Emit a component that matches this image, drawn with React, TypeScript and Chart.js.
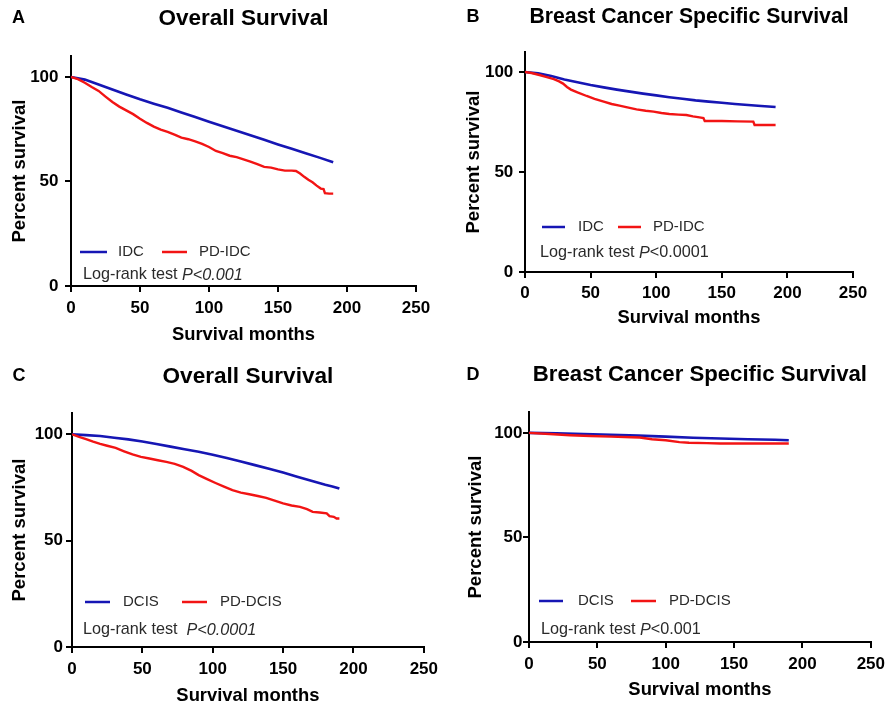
import React, { useEffect, useRef } from "react";
import { Chart, registerables } from "chart.js";

Chart.register(...registerables);

const FONT = '"Liberation Sans", Arial, Helvetica, sans-serif';
const BLUE = "#1616b4";
const RED = "#f21414";

const xTickValues = [0, 50, 100, 150, 200, 250];
const yTickValues = [0, 50, 100];

// Panel A – Overall survival, IDC vs PD-IDC
const idcOsMonths = [0, 10, 20, 30, 40, 50, 60, 70, 80, 90, 100, 110, 120, 130, 140, 150, 160, 170, 180, 190];
const idcOsSurvival = [100, 98.7, 96.4, 94.0, 91.6, 89.3, 87.2, 85.2, 83.0, 80.8, 78.6, 76.4, 74.3, 72.1, 69.9, 67.7, 65.6, 63.5, 61.4, 59.2];
const pdIdcOsMonths = [0, 5, 10, 15, 20, 25, 30, 35, 40, 45, 50, 55, 60, 65, 70, 75, 80, 85, 90, 95, 100, 105, 110, 115, 120, 125, 130, 135, 140, 145, 150, 155, 160, 163, 166, 169, 172, 175, 178, 181, 183, 184, 187, 190];
const pdIdcOsSurvival = [100, 98.9, 97.2, 95.2, 93.3, 90.6, 88.0, 85.8, 84.0, 82.2, 80.0, 78.0, 76.2, 74.8, 73.7, 72.4, 71.0, 70.2, 69.2, 68.0, 66.5, 64.6, 63.6, 62.3, 61.6, 60.6, 59.5, 58.3, 57.0, 56.6, 55.8, 55.2, 55.2, 55.0, 53.8, 52.2, 50.8, 49.6, 48.0, 46.6, 46.4, 44.4, 44.2, 44.2];

// Panel B – Breast cancer specific survival, IDC vs PD-IDC
const idcBcssMonths = [0, 10, 20, 30, 40, 50, 60, 70, 80, 90, 100, 110, 120, 130, 140, 150, 160, 170, 180, 191];
const idcBcssSurvival = [100, 99.3, 98.0, 96.3, 94.9, 93.5, 92.3, 91.2, 90.2, 89.2, 88.3, 87.4, 86.6, 85.8, 85.2, 84.6, 84.0, 83.5, 83.0, 82.5];
const pdIdcBcssMonths = [0, 5, 11, 16, 22, 26, 29, 32, 35, 40, 47, 53, 60, 66, 72, 78, 85, 92, 98, 104, 110, 117, 123, 128, 133, 136, 137, 150, 162, 174, 175, 191];
const pdIdcBcssSurvival = [100, 99.5, 98.5, 97.6, 96.4, 95.3, 94.2, 92.5, 91.2, 89.8, 88.0, 86.6, 85.2, 84.0, 83.2, 82.3, 81.3, 80.6, 80.2, 79.5, 79.0, 78.7, 78.5, 77.8, 77.3, 77.0, 75.5, 75.5, 75.3, 75.2, 73.5, 73.5];

// Panel C – Overall survival, DCIS vs PD-DCIS
const dcisOsMonths = [0, 10, 20, 30, 40, 50, 60, 70, 80, 90, 100, 110, 120, 130, 140, 150, 160, 170, 180, 185, 190];
const dcisOsSurvival = [100, 99.6, 99.2, 98.4, 97.6, 96.6, 95.4, 94.2, 93.0, 91.8, 90.4, 88.8, 87.2, 85.5, 83.8, 82.0, 80.0, 78.1, 76.3, 75.5, 74.5];
const pdDcisOsMonths = [0, 5, 10, 15, 20, 25, 31, 37, 43, 49, 55, 61, 67, 73, 79, 85, 90, 96, 102, 108, 114, 120, 126, 132, 138, 144, 150, 156, 162, 167, 171, 176, 181, 183, 186, 188, 190];
const pdDcisOsSurvival = [100, 98.8, 97.7, 96.5, 95.5, 94.6, 93.6, 92.0, 90.5, 89.4, 88.6, 87.8, 87.0, 86.1, 84.7, 82.8, 80.8, 78.9, 77.1, 75.4, 73.7, 72.6, 71.8, 71.0, 70.1, 68.8, 67.5, 66.5, 65.9, 64.8, 63.5, 63.2, 62.8, 61.5, 61.2, 60.4, 60.4];

// Panel D – Breast cancer specific survival, DCIS vs PD-DCIS
const dcisBcssMonths = [0, 20, 40, 60, 80, 100, 120, 140, 160, 180, 190];
const dcisBcssSurvival = [100, 99.8, 99.5, 99.1, 98.7, 98.2, 97.7, 97.3, 97.0, 96.7, 96.5];
const pdDcisBcssMonths = [0, 15, 30, 45, 60, 75, 81, 90, 100, 110, 117, 130, 140, 190];
const pdDcisBcssSurvival = [100, 99.5, 98.9, 98.5, 98.2, 97.9, 97.8, 97.0, 96.5, 95.6, 95.3, 95.1, 94.9, 94.9];

const toXY = (xs: number[], ys: number[]) => xs.map((x, i) => ({ x, y: ys[i] }));

type Panel = {
  letter: string;
  title: string;
  titleSize: number;
  seriesA: { label: string; months: number[]; surv: number[] };
  seriesB: { label: string; months: number[]; surv: number[] };
  logParts: { text: string; italic: boolean }[];
  box: { left: number; top: number; w: number; h: number };
  padTop: number;
  padRight: number;
  yAxisW: number;
  xAxisH: number;
  yTitlePad: number;
  yTickPad: number;
  xTickPad: number;
  xTitlePad: number;
  titleY: number;
  letterX: number;
  legendY: number;
  legend: { x0: number; x1: number; textX: number }[];
  logX: number;
  logY: number;
};

const panels: Panel[] = [
  {
    letter: "A",
    title: "Overall Survival",
    titleSize: 22.5,
    seriesA: { label: "IDC", months: idcOsMonths, surv: idcOsSurvival },
    seriesB: { label: "PD-IDC", months: pdIdcOsMonths, surv: pdIdcOsSurvival },
    logParts: [{ text: "Log-rank test ", italic: false }, { text: "P<0.001", italic: true }],
    box: { left: 0, top: 0, w: 446, h: 353 },
    padTop: 56, padRight: 30, yAxisW: 71, xAxisH: 67,
    yTitlePad: 10.5, yTickPad: 6.5, xTickPad: 8, xTitlePad: 9,
    titleY: 18.5, letterX: 18.5, legendY: 252,
    legend: [{ x0: 80, x1: 107, textX: 118 }, { x0: 162, x1: 187, textX: 199 }],
    logX: 83, logY: 275,
  },
  {
    letter: "B",
    title: "Breast Cancer Specific Survival",
    titleSize: 21.2,
    seriesA: { label: "IDC", months: idcBcssMonths, surv: idcBcssSurvival },
    seriesB: { label: "PD-IDC", months: pdIdcBcssMonths, surv: pdIdcBcssSurvival },
    logParts: [{ text: "Log-rank test ", italic: false }, { text: "P", italic: true }, { text: "<0.0001", italic: false }],
    box: { left: 446, top: 0, w: 447, h: 353 },
    padTop: 52, padRight: 40, yAxisW: 79, xAxisH: 81,
    yTitlePad: 18.5, yTickPad: 5.7, xTickPad: 7, xTitlePad: 26,
    titleY: 17, letterX: 27, legendY: 227,
    legend: [{ x0: 96, x1: 119, textX: 132 }, { x0: 172, x1: 195, textX: 207 }],
    logX: 94, logY: 253,
  },
  {
    letter: "C",
    title: "Overall Survival",
    titleSize: 22.6,
    seriesA: { label: "DCIS", months: dcisOsMonths, surv: dcisOsSurvival },
    seriesB: { label: "PD-DCIS", months: pdDcisOsMonths, surv: pdDcisOsSurvival },
    logParts: [{ text: "Log-rank test  ", italic: false }, { text: "P<0.0001", italic: true }],
    box: { left: 0, top: 353, w: 446, h: 353 },
    padTop: 60, padRight: 22, yAxisW: 72, xAxisH: 59,
    yTitlePad: 10.5, yTickPad: 3, xTickPad: 8, xTitlePad: 0.5,
    titleY: 23.5, letterX: 19, legendY: 249,
    legend: [{ x0: 85, x1: 110, textX: 123 }, { x0: 182, x1: 207, textX: 220 }],
    logX: 83, logY: 277,
  },
  {
    letter: "D",
    title: "Breast Cancer Specific Survival",
    titleSize: 22.2,
    seriesA: { label: "DCIS", months: dcisBcssMonths, surv: dcisBcssSurvival },
    seriesB: { label: "PD-DCIS", months: pdDcisBcssMonths, surv: pdDcisBcssSurvival },
    logParts: [{ text: "Log-rank test ", italic: false }, { text: "P", italic: true }, { text: "<0.001", italic: false }],
    box: { left: 446, top: 353, w: 447, h: 353 },
    padTop: 59, padRight: 17, yAxisW: 83, xAxisH: 64,
    yTitlePad: 21, yTickPad: 0.5, xTickPad: 8, xTitlePad: 7,
    titleY: 22, letterX: 27, legendY: 248,
    legend: [{ x0: 93, x1: 117, textX: 132 }, { x0: 185, x1: 210, textX: 223 }],
    logX: 95, logY: 277,
  },
];

function makeDecor(p: Panel) {
  return {
    id: "panelDecor" + p.letter,
    afterDraw(chart: any) {
      const { ctx, chartArea } = chart;
      ctx.save();
      ctx.textBaseline = "middle";
      ctx.fillStyle = "#000";
      ctx.textAlign = "center";
      ctx.font = `bold ${p.titleSize}px ${FONT}`;
      ctx.fillText(p.title, (chartArea.left + chartArea.right) / 2, p.titleY);
      ctx.font = `bold 18px ${FONT}`;
      ctx.fillText(p.letter, p.letterX, p.titleY);

      ctx.textAlign = "left";
      ctx.font = `15px ${FONT}`;
      chart.data.datasets.forEach((ds: any, i: number) => {
        const lg = p.legend[i];
        ctx.strokeStyle = ds.borderColor;
        ctx.lineWidth = 2.5;
        ctx.beginPath();
        ctx.moveTo(lg.x0, p.legendY);
        ctx.lineTo(lg.x1, p.legendY);
        ctx.stroke();
        ctx.fillStyle = "#2a2a2a";
        ctx.fillText(ds.label, lg.textX, p.legendY);
      });

      let x = p.logX;
      ctx.fillStyle = "#2a2a2a";
      p.logParts.forEach((part) => {
        ctx.font = `${part.italic ? "italic " : ""}16.2px ${FONT}`;
        ctx.fillText(part.text, x, p.logY);
        x += ctx.measureText(part.text).width;
      });
      ctx.restore();
    },
  };
}

function SurvivalPanel({ p }: { p: Panel }) {
  const ref = useRef<HTMLCanvasElement | null>(null);
  useEffect(() => {
    if (!ref.current) return;
    const axisCommon = {
      grid: { display: true, drawOnChartArea: false, drawTicks: true, tickLength: 6, color: "#000", lineWidth: 2 },
      border: { display: true, color: "#000", width: 2 },
    };
    const chart = new Chart(ref.current, {
      type: "line",
      data: {
        datasets: [
          {
            label: p.seriesA.label,
            data: toXY(p.seriesA.months, p.seriesA.surv),
            borderColor: BLUE,
            backgroundColor: BLUE,
            borderWidth: 2.6,
            pointRadius: 0,
            tension: 0,
            fill: false,
            order: 1,
          },
          {
            label: p.seriesB.label,
            data: toXY(p.seriesB.months, p.seriesB.surv),
            borderColor: RED,
            backgroundColor: RED,
            borderWidth: 2.4,
            pointRadius: 0,
            tension: 0,
            fill: false,
            order: -1,
          },
        ],
      },
      options: {
        animation: false,
        responsive: false,
        devicePixelRatio: 1,
        parsing: false as any,
        layout: { padding: { left: 0, top: p.padTop, right: p.padRight, bottom: 0 } },
        plugins: {
          legend: { display: false },
          tooltip: { enabled: false },
          title: { display: false },
        },
        scales: {
          x: {
            type: "linear",
            min: 0,
            max: 250,
            ...axisCommon,
            afterBuildTicks: (s: any) => {
              s.ticks = xTickValues.map((v) => ({ value: v }));
            },
            afterFit: (s: any) => {
              s.height = p.xAxisH;
            },
            ticks: {
              color: "#000",
              padding: p.xTickPad,
              maxRotation: 0,
              font: { family: FONT, size: 17, weight: "bold", lineHeight: 1 },
            },
            title: {
              display: true,
              text: "Survival months",
              color: "#000",
              padding: { top: 0, bottom: p.xTitlePad },
              font: { family: FONT, size: 18.4, weight: "bold", lineHeight: 1 },
            },
          },
          y: {
            type: "linear",
            min: 0,
            max: 110,
            ...axisCommon,
            afterBuildTicks: (s: any) => {
              s.ticks = yTickValues.map((v) => ({ value: v }));
            },
            afterFit: (s: any) => {
              s.width = p.yAxisW;
            },
            ticks: {
              color: "#000",
              padding: p.yTickPad,
              font: { family: FONT, size: 17, weight: "bold", lineHeight: 1 },
            },
            title: {
              display: true,
              text: "Percent survival",
              color: "#000",
              padding: { top: p.yTitlePad, bottom: 0 },
              font: { family: FONT, size: 18.5, weight: "bold", lineHeight: 1 },
            },
          },
        },
      } as any,
      plugins: [makeDecor(p)],
    });
    return () => chart.destroy();
  }, [p]);

  return (
    <div style={{ position: "absolute", left: p.box.left, top: p.box.top, width: p.box.w, height: p.box.h }}>
      <canvas ref={ref} width={p.box.w} height={p.box.h} style={{ width: p.box.w, height: p.box.h, display: "block" }} />
    </div>
  );
}

export default function App() {
  return (
    <div style={{ position: "fixed", left: 0, top: 0, width: 893, height: 706, background: "#fff", overflow: "hidden" }}>
      {panels.map((p) => (
        <SurvivalPanel key={p.letter} p={p} />
      ))}
    </div>
  );
}
